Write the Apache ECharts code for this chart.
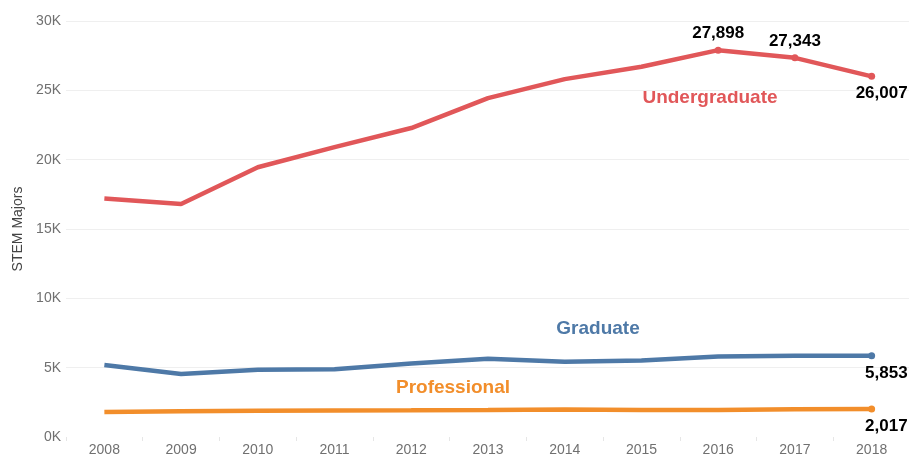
<!DOCTYPE html>
<html>
<head>
<meta charset="utf-8">
<script src="https://cdn.jsdelivr.net/npm/echarts@6/dist/echarts.min.js"></script>
<style>html,body{margin:0;padding:0;background:#fff;}#c{width:909px;height:457px;}</style>
</head>
<body>
<div id="c"></div>
<script>
var years = ['2008','2009','2010','2011','2012','2013','2014','2015','2016','2017','2018'];
var undergraduate = [17200, 16800, 19450, 20900, 22280, 24440, 25810, 26700, 27898, 27343, 26007];
var graduate = [5200, 4550, 4850, 4880, 5300, 5650, 5420, 5520, 5800, 5860, 5853];
var professional = [1800, 1850, 1900, 1920, 1930, 1950, 1980, 1950, 1950, 2000, 2017];
var yTicks = [0, 5000, 10000, 15000, 20000, 25000, 30000];

var RED = '#e15759', BLUE = '#4e79a7', ORANGE = '#f28e2b';
var FONT = '"Liberation Sans", Arial, sans-serif';

function fmt(v){ return v.toLocaleString('en-US'); }

function build(vals, labelled){
  return vals.map(function(v, i){
    var spec = labelled[i];
    if (!spec) return {value: v, symbolSize: 0};
    var lab = {show: true, position: spec, formatter: function(p){ return fmt(p.value); },
      color: '#000', fontWeight: 'bold', fontSize: 17, fontFamily: FONT};
    if (spec === 'bottom') { lab.align = 'right'; lab.offset = [36, 0]; }
    return {value: v, symbolSize: 7, label: lab};
  });
}

function lineSeries(name, vals, color, labelled){
  return {
    name: name, type: 'line', data: build(vals, labelled),
    symbol: 'circle', showSymbol: true, showAllSymbol: true,
    lineStyle: {color: color, width: 4.5},
    itemStyle: {color: color},
    emphasis: {disabled: true},
    label: {show: false},
    z: 3
  };
}

var chart = echarts.init(document.getElementById('c'), null, {renderer: 'canvas'});
chart.setOption({
  animation: false,
  backgroundColor: '#fff',
  grid: {left: 66, right: -1, top: 21, bottom: 20, containLabel: false, outerBoundsMode: 'none'},
  xAxis: {
    type: 'category', data: years, boundaryGap: true,
    axisLine: {show: false},
    axisTick: {show: true, length: 4, lineStyle: {color: '#e6e6e6'}},
    axisLabel: {color: '#707070', fontSize: 14, fontFamily: FONT, margin: 6}
  },
  yAxis: {
    type: 'value', min: yTicks[0], max: yTicks[yTicks.length-1], interval: yTicks[1]-yTicks[0],
    name: 'STEM Majors', nameLocation: 'middle', nameGap: 40,
    nameTextStyle: {color: '#444', fontSize: 14, fontFamily: FONT},
    axisLine: {show: false}, axisTick: {show: false},
    axisLabel: {color: '#707070', fontSize: 14, fontFamily: FONT, margin: 5,
      formatter: function(v){ return (v/1000) + 'K'; }},
    splitLine: {show: true, showMinLine: false, lineStyle: {color: '#efefef', width: 1}}
  },
  series: [
    lineSeries('Undergraduate', undergraduate, RED, {8: 'top', 9: 'top', 10: 'bottom'}),
    lineSeries('Graduate', graduate, BLUE, {10: 'bottom'}),
    lineSeries('Professional', professional, ORANGE, {10: 'bottom'})
  ],
  graphic: [
    {type: 'text', x: 710, y: 98, style: {text: 'Undergraduate', fill: RED, font: 'bold 19px ' + FONT, align: 'center', verticalAlign: 'middle'}},
    {type: 'text', x: 598, y: 329, style: {text: 'Graduate', fill: BLUE, font: 'bold 19px ' + FONT, align: 'center', verticalAlign: 'middle'}},
    {type: 'text', x: 453, y: 388, style: {text: 'Professional', fill: ORANGE, font: 'bold 19px ' + FONT, align: 'center', verticalAlign: 'middle'}}
  ]
});
</script>
</body>
</html>
